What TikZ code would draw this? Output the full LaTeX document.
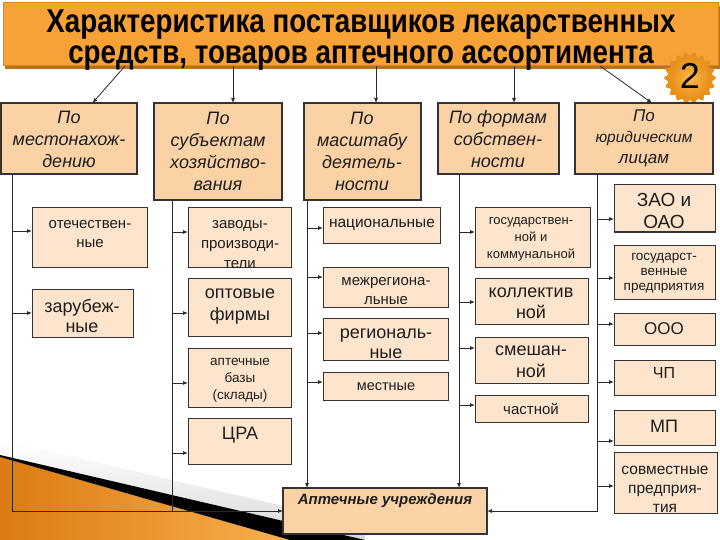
\documentclass[tikz,border=0pt]{standalone}
\usepackage{fontspec}
\setmainfont{Liberation Sans}
\usetikzlibrary{arrows.meta,calc}
\definecolor{topfill}{HTML}{FAD2A6}
\definecolor{subfill}{HTML}{FCE5CC}
\definecolor{boxline}{HTML}{333333}
\definecolor{lineclr}{HTML}{2A2A2A}
\definecolor{titlefill}{HTML}{F6A236}
\definecolor{titleline}{HTML}{D9861C}
\definecolor{titleshadow}{HTML}{B8721A}
\definecolor{decoA}{HTML}{DD7A12}
\definecolor{decoB}{HTML}{F6B04E}
\definecolor{badgeA}{HTML}{FAB84A}
\definecolor{badgeB}{HTML}{E8901C}
\definecolor{txt}{HTML}{1E1E1E}
\newcommand\fsz[2]{\fontsize{#1}{#2}\selectfont}
\newcommand\mybox[6]{\node[#6, minimum width={(#4-#2)*1pt}, minimum height={(#5-#3)*1pt}] (#1) at ({(#2+#4)/2},{(#3+#5)/2}) {};}
\newcommand\feed[3]{\path ($(#2.west)+(0,#3)$) coordinate (tmp#2); \draw[arr] (tmp#2 -| #1) -- (tmp#2);}
\tikzset{
  topbox/.style={draw=boxline, fill=topfill, line width=1.1pt, inner sep=0pt, outer sep=0pt},
  subbox/.style={draw=boxline, fill=subfill, line width=1pt, inner sep=0pt, outer sep=0pt},
  conn/.style={draw=lineclr, line width=0.8pt},
  arr/.style={conn, -{Latex[length=5pt,width=4pt]}},
  lbl/.style={align=center, inner sep=0pt, text=txt},
  toplbl/.style={lbl, font=\itshape\fsz{18}{22}},
}
\begin{document}
\begin{tikzpicture}[x=1pt,y=-1pt]
\useasboundingbox (0,0) rectangle (720,540);
\fill[white] (0,0) rectangle (720,540);
% decoration bottom-left
\shade[top color=white, bottom color=black!15] (0,440) -- (365,525) -- (365,540) -- (0,455) -- cycle;
\shade[left color=decoA, right color=decoB] (0,457) -- (290,540) -- (0,540) -- cycle;
\fill[black] (0,455) -- (365,540) -- (290,540) -- (0,457) -- cycle;
% title
\fill[titleshadow] (5,6) rectangle (720,69);
\node[draw=titleline, fill=titlefill, line width=1pt, minimum width=715pt, minimum height=63pt, inner sep=0pt, outer sep=0pt] (title) at (360.5,34.5) {};
\node[lbl, font=\bfseries\fsz{33}{31}, text=black] (titletxt) at (361,40)
  {\scalebox{0.84}[1]{Характеристика поставщиков лекарственных}\\
   \scalebox{0.84}[1]{средств, товаров аптечного ассортимента}};
% badge
\fill[badgeB] plot[domain=0:360, samples=241, smooth] ({690+(24+1.8*cos(18*\x))*cos(\x)},{78+(24+1.8*cos(18*\x))*sin(\x)}) -- cycle;
\shade[inner color=badgeA, outer color=badgeB] (690,78) circle (20);
\node[lbl, font=\fsz{36}{36}, text=black] (badge) at (690,76) {2};
% top boxes
\mybox{t1}{1}{103}{137}{174}{topbox}
\mybox{t2}{154}{103}{282}{200}{topbox}
\mybox{t3}{304}{103}{421}{200}{topbox}
\mybox{t4}{438}{103}{559}{174}{topbox}
\mybox{t5}{575}{103}{713}{174}{topbox}
\node[toplbl] (t1l) at (69,139) {По\\местонахож-\\дению};
\node[toplbl] (t2l) at (218,151) {По\\субъектам\\хозяйство-\\вания};
\node[toplbl] (t3l) at (362,151) {По\\масштабу\\деятель-\\ности};
\node[toplbl] (t4l) at (498,139) {По формам\\собствен-\\ности};
\node[toplbl, font=\itshape\fsz{17}{21}] (t5l) at (644,138) {По\\{\fsz{15.5}{21}юридическим}\\лицам};
% title arrows
\draw[arr] ([xshift=122pt]title.south west) -- ([xshift=23.5pt]t1.north);
\draw[arr] ([xshift=230pt]title.south west) -- ([xshift=15pt]t2.north);
\draw[arr] ([xshift=373pt]title.south west) -- ([xshift=13.5pt]t3.north);
\draw[arr] ([xshift=511pt]title.south west) -- ([xshift=15.5pt]t4.north);
\draw[arr] ([xshift=597pt]title.south west) -- ([xshift=8pt]t5.north);
% sub boxes
\mybox{a1}{32}{208}{147}{267}{subbox}
\mybox{a2}{32}{289}{133}{337}{subbox}
\mybox{b1}{188}{208}{291}{267}{subbox}
\mybox{b2}{188}{278}{291}{336}{subbox}
\mybox{b3}{188}{348}{291}{407}{subbox}
\mybox{b4}{188}{418}{291}{464}{subbox}
\mybox{c1}{323}{208}{440}{243}{subbox}
\mybox{c2}{323}{267}{448}{307}{subbox}
\mybox{c3}{323}{318}{448}{360}{subbox}
\mybox{c4}{323}{372}{448}{400}{subbox}
\mybox{d1}{475}{208}{590}{267}{subbox}
\mybox{d2}{475}{278}{588}{324}{subbox}
\mybox{d3}{475}{337}{588}{383}{subbox}
\mybox{d4}{475}{395}{588}{422}{subbox}
\mybox{e1}{614}{185}{715}{232}{subbox}
\mybox{e2}{614}{245}{715}{299}{subbox}
\mybox{e3}{614}{313}{715}{345}{subbox}
\mybox{e4}{614}{360}{715}{395}{subbox}
\mybox{e5}{614}{410}{715}{445}{subbox}
\mybox{e6}{614}{452}{717}{513}{subbox}
\mybox{ap}{283}{488}{487}{534}{topbox}
% vertical lines
\coordinate (v1) at (12,0);
\coordinate (v2) at (172,0);
\coordinate (v3) at (307,0);
\coordinate (v4) at (459,0);
\coordinate (v5) at (597,0);
\draw[arr] (t1.south -| v1) |- (ap.west);
\draw[arr] (t5.south -| v5) |- (ap.east);
\draw[conn] (t2.south -| v2) -- (v2 |- ap.west);
\draw[arr] (t3.south -| v3) -- (ap.north -| v3);
\draw[arr] (t4.south -| v4) -- (ap.north -| v4);
% feeds
\feed{v1}{a1}{-6.5}
\feed{v1}{a2}{0}
\feed{v2}{b1}{-5.5}
\feed{v2}{b2}{6}
\feed{v2}{b3}{5.5}
\feed{v2}{b4}{12}
\feed{v3}{c1}{2.5}
\feed{v3}{c2}{-10}
\feed{v3}{c3}{-6}
\feed{v3}{c4}{-4}
\feed{v4}{d1}{-5.5}
\feed{v4}{d2}{1}
\feed{v4}{d3}{-12}
\feed{v4}{d4}{-3.5}
\feed{v5}{e1}{10.5}
\feed{v5}{e2}{6}
\feed{v5}{e3}{-5}
\feed{v5}{e4}{4.5}
\feed{v5}{e5}{13.5}
\feed{v5}{e6}{3.5}
% sub labels
\node[lbl, font=\fsz{15}{19}] (a1l) at (90,234) {отечествен-\\ные};
\node[lbl, font=\fsz{18}{20}] (a2l) at (82,316) {зарубеж-\\ные};
\node[lbl, font=\fsz{15}{20}] (b1l) at (240,245) {заводы-\\производи-\\тели};
\node[lbl, font=\fsz{18}{22}] (b2l) at (240,307) {оптовые\\фирмы};
\node[lbl, font=\fsz{13.5}{17}] (b3l) at (240,380) {аптечные\\базы\\(склады)};
\node[lbl, font=\fsz{18}{20}] (b4l) at (240,435) {ЦРА};
\node[lbl, font=\fsz{15.5}{19}] (c1l) at (382,225) {национальные};
\node[lbl, font=\fsz{15}{19}] (c2l) at (386,291) {межрегиона-\\льные};
\node[lbl, font=\fsz{18}{20}] (c3l) at (386,344) {региональ-\\ные};
\node[lbl, font=\fsz{14.5}{18}] (c4l) at (386,387) {местные};
\node[lbl, font=\fsz{13}{17}] (d1l) at (531,239) {государствен-\\ной и\\коммунальной};
\node[lbl, font=\fsz{18}{21}] (d2l) at (531,303) {коллектив\\ной};
\node[lbl, font=\fsz{18}{22}] (d3l) at (531,362) {смешан-\\ной};
\node[lbl, font=\fsz{15}{18}] (d4l) at (531,409) {частной};
\node[lbl, font=\fsz{19}{22}] (e1l) at (664,211) {ЗАО и\\ОАО};
\node[lbl, font=\fsz{13.5}{15}] (e2l) at (664,273) {государст-\\венные\\предприятия};
\node[lbl, font=\fsz{17}{20}] (e3l) at (664,329) {ООО};
\node[lbl, font=\fsz{16}{20}] (e4l) at (664,373) {ЧП};
\node[lbl, font=\fsz{18}{20}] (e5l) at (664,426) {МП};
\node[lbl, font=\fsz{15.5}{19}] (e6l) at (665,489) {совместные\\предприя-\\тия};
\node[lbl, font=\bfseries\itshape\fsz{15}{18}] (apl) at (385,501) {Аптечные учреждения};
\end{tikzpicture}
\end{document}
